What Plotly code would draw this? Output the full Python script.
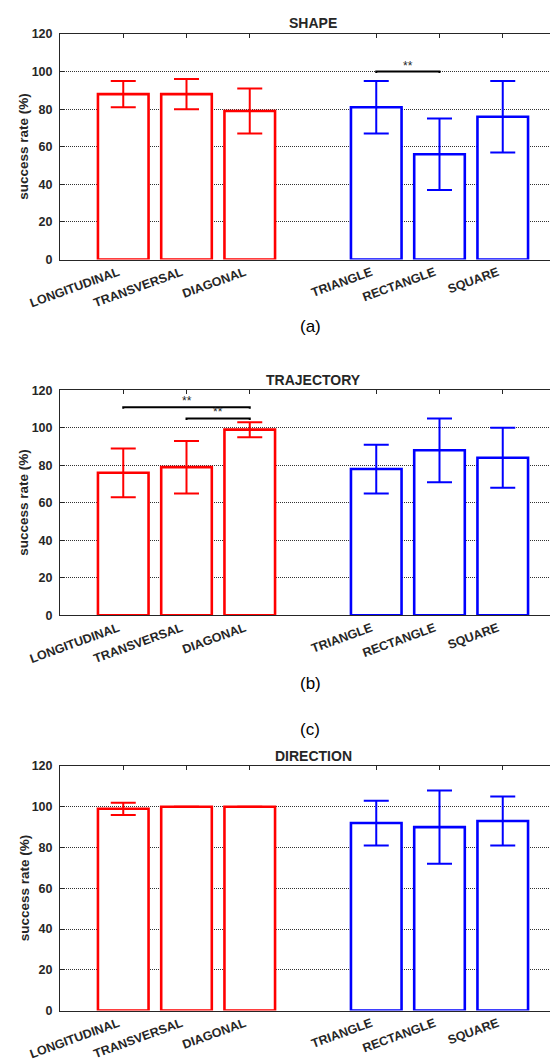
import plotly.graph_objects as go

# ---------------- data ----------------
categories = ["LONGITUDINAL", "TRANSVERSAL", "DIAGONAL", "TRIANGLE", "RECTANGLE", "SQUARE"]
group_a = ["LONGITUDINAL", "TRANSVERSAL", "DIAGONAL"]   # red
group_b = ["TRIANGLE", "RECTANGLE", "SQUARE"]           # blue

panel_titles = ["SHAPE", "TRAJECTORY", "DIRECTION"]
panel_captions = ["(a)", "(b)", "(c)"]

shape_mean = [88, 88, 79, 81, 56, 76]
shape_err = [7, 8, 12, 14, 19, 19]

trajectory_mean = [76, 79, 99, 78, 88, 84]
trajectory_err = [13, 14, 4, 13, 17, 16]

direction_mean = [99, 100, 100, 92, 90, 93]
direction_err = [3, None, None, 11, 18, 12]

# significance brackets: (from, to, height, label)
shape_sig = [("TRIANGLE", "RECTANGLE", 100, "**")]
trajectory_sig = [("LONGITUDINAL", "DIAGONAL", 111, "**"),
                  ("TRANSVERSAL", "DIAGONAL", 105, "**")]
direction_sig = []

y_ticks = [0, 20, 40, 60, 80, 100, 120]
y_label = "success rate (%)"

# ---------------- layout helpers ----------------
W, H = 558, 1060
FONT = "Liberation Sans, Arial, sans-serif"
TXT = "#262626"
RED = "#FF0000"
BLUE = "#0000FF"


def xpos(cat):
    # bars at 1,2,3 and 5,6,7 (one empty slot between groups)
    if cat in group_a:
        return group_a.index(cat) + 1
    return group_b.index(cat) + len(group_a) + 2


# panel vertical extents in pixels (top, bottom)
panels_px = [(26, 251.5), (382.3, 607.3), (758, 1002.5)]
title_px = [15, 371.7, 748]
caption_px = [318, 675, 721]


def py(p):
    return 1 - p / H


fig = go.Figure()
means = [shape_mean, trajectory_mean, direction_mean]
errs = [shape_err, trajectory_err, direction_err]
sigs = [shape_sig, trajectory_sig, direction_sig]

annotations = []
for k in range(3):
    xa = "x" if k == 0 else f"x{k+1}"
    ya = "y" if k == 0 else f"y{k+1}"
    for grp, col in [(group_a, RED), (group_b, BLUE)]:
        idx = [categories.index(c) for c in grp]
        fig.add_trace(go.Bar(
            x=[xpos(c) for c in grp],
            y=[means[k][i] for i in idx],
            width=0.8,
            marker=dict(color="white", line=dict(color=col, width=2.6)),
            error_y=dict(type="data", array=[errs[k][i] for i in idx],
                         color=col, thickness=2, width=12.5, visible=True),
            xaxis=xa, yaxis=ya, showlegend=False, hoverinfo="skip",
        ))
    for (c1, c2, h, lab) in sigs[k]:
        x1, x2 = xpos(c1), xpos(c2)
        fig.add_trace(go.Scatter(
            x=[x1, x1, x2, x2], y=[h - 0.8, h, h, h - 0.8], mode="lines",
            line=dict(color="black", width=2), xaxis=xa, yaxis=ya,
            showlegend=False, hoverinfo="skip",
        ))
        annotations.append(dict(
            x=(x1 + x2) / 2, y=h, xref=xa, yref=ya, text=lab, showarrow=False,
            yanchor="bottom", yshift=-3, font=dict(family=FONT, size=12, color=TXT),
        ))
    # invisible trace for the top tick axis
    fig.add_trace(go.Scatter(x=[None], y=[None], xaxis=f"x{k+4}", yaxis=ya,
                             showlegend=False, hoverinfo="skip"))

    top, bot = panels_px[k]
    dom = [py(bot), py(top)]
    tickvals = [xpos(c) for c in categories]
    fig.update_layout(**{
        ("xaxis" if k == 0 else f"xaxis{k+1}"): dict(
            domain=[0, 1], range=[0, 8], anchor=ya,
            tickvals=tickvals, ticktext=categories, tickangle=-20,
            ticks="", showline=True, linecolor=TXT, linewidth=1, mirror=True,
            showgrid=False, zeroline=False, ticklabelshift=-5, ticklabelstandoff=0,
            tickfont=dict(family=FONT, size=12.5, color=TXT, weight="bold"),
            automargin=False,
        ),
        f"xaxis{k+4}": dict(
            domain=[0, 1], range=[0, 8], anchor=ya, overlaying=xa, side="top",
            tickvals=tickvals, ticks="inside", ticklen=4, tickcolor=TXT,
            tickwidth=1, showticklabels=False, showline=False, showgrid=False,
            zeroline=False,
        ),
        ("yaxis" if k == 0 else f"yaxis{k+1}"): dict(
            domain=dom, range=[0, 120], anchor=xa, tickvals=y_ticks,
            ticks="inside", ticklen=4, tickcolor=TXT,
            showline=True, linecolor=TXT, linewidth=1, mirror=False,
            showgrid=True, gridcolor="#333333", gridwidth=1, griddash="1px,1px",
            zeroline=False, ticklabelstandoff=4,
            tickfont=dict(family=FONT, size=12.5, color=TXT, weight="bold"),
            automargin=False,
        ),
    })
    annotations.append(dict(
        x=0.5, y=py(title_px[k]), xref="paper", yref="paper", text=panel_titles[k],
        showarrow=False, yanchor="middle", xanchor="center",
        font=dict(family=FONT, size=14, color=TXT, weight="bold"),
    ))
    annotations.append(dict(
        x=(302 - 52) / 506, y=py(caption_px[k]), xref="paper", yref="paper",
        text=panel_captions[k], showarrow=False, yanchor="middle", xanchor="center",
        font=dict(family=FONT, size=17, color="black"),
    ))
    annotations.append(dict(
        x=(16 - 52) / 506, y=py((top + bot) / 2), xref="paper", yref="paper",
        text=y_label, textangle=-90, showarrow=False, xanchor="center", yanchor="middle",
        font=dict(family=FONT, size=13.5, color=TXT, weight="bold"),
    ))

fig.update_layout(
    width=W, height=H, margin=dict(l=52, r=0, t=0, b=0),
    paper_bgcolor="white", plot_bgcolor="white", barmode="overlay",
    annotations=annotations,
)

fig.write_html("out.html")
